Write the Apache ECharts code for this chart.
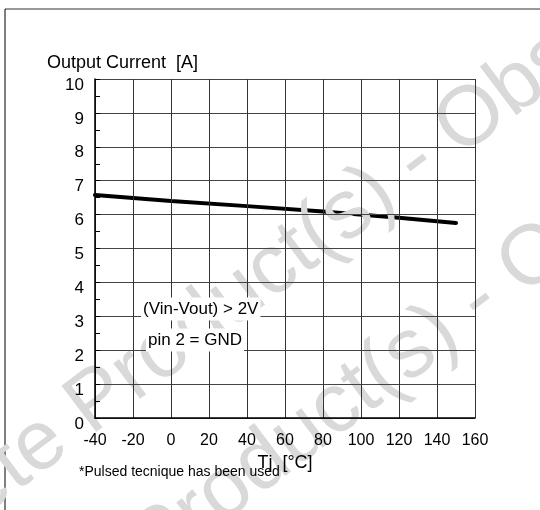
<!DOCTYPE html>
<html>
<head>
<meta charset="utf-8">
<script src="https://cdn.jsdelivr.net/npm/echarts@6/dist/echarts.min.js"></script>
<style>
  html, body { margin: 0; padding: 0; background: #fff; }
  #chart { width: 540px; height: 510px; }
</style>
</head>
<body>
<div id="chart"></div>
<script>
// junction temperature [°C] and output current [A]
var tj = [-40, 0, 40, 80, 120, 150];
var current = [6.58, 6.40, 6.25, 6.09, 5.91, 5.75];
var xTicks = [-40, -20, 0, 20, 40, 60, 80, 100, 120, 140, 160];
var yTicks = [0, 1, 2, 3, 4, 5, 6, 7, 8, 9, 10];

var font = 'Liberation Sans';
var wmAngle = 37 * Math.PI / 180;

// watermark text, sits over the curve but under the grid
function wmText(x, y, text, align) {
	return {
		type: 'text',
		x: x,
		y: y,
		rotation: wmAngle,
		z: 5,
		silent: true,
		style: {
			text: text,
			fill: '#d9d9d9',
			font: '84px "' + font + '"',
			align: align,
			verticalAlign: 'bottom'
		}
	};
}

var myChart = echarts.init(document.getElementById('chart'));
var option = {
	backgroundColor: '#fff',
	animation: false,
	grid: { left: 95, right: 65, top: 79, bottom: 92 },
	xAxis: {
		type: 'value',
		z: 10,
		min: xTicks[0],
		max: xTicks[xTicks.length - 1],
		interval: 20,
		name: 'Tj  [°C]',
		nameLocation: 'middle',
		nameGap: 34,
		nameTextStyle: { color: '#000', fontSize: 18, fontFamily: font },
		axisLine: { lineStyle: { color: '#000', width: 1.5 } },
		axisTick: { show: false },
		axisLabel: { color: '#000', fontSize: 16, fontFamily: font, margin: 15 },
		splitLine: { show: true, lineStyle: { color: '#333', width: 1 } }
	},
	yAxis: {
		type: 'value',
		z: 10,
		min: yTicks[0],
		max: yTicks[yTicks.length - 1],
		interval: 1,
		axisLine: { onZero: false, lineStyle: { color: '#000', width: 1.5 } },
		axisTick: { show: true, inside: true, length: 5, lineStyle: { color: '#000' } },
		minorTick: { show: true, splitNumber: 2, length: 5, lineStyle: { color: '#000' } },
		axisLabel: { color: '#000', fontSize: 17, fontFamily: font, margin: 11, verticalAlign: 'top', lineHeight: 12 },
		splitLine: { show: true, lineStyle: { color: '#444', width: 1 } }
	},
	series: [{
		type: 'line',
		z: 2,
		data: tj.map(function (t, i) { return [t, current[i]]; }),
		symbol: 'none',
		lineStyle: { color: '#000', width: 4, cap: 'round' }
	}],
	graphic: [
		{ type: 'line', shape: { x1: 5, y1: 9, x2: 540, y2: 9 }, style: { stroke: '#777', lineWidth: 1.5 } },
		{ type: 'line', shape: { x1: 5, y1: 9, x2: 5, y2: 510 }, style: { stroke: '#000', lineWidth: 1 } },
		{
			type: 'text', x: 47, y: 63, z: 11,
			style: { text: 'Output Current  [A]', fill: '#000', font: '18px "' + font + '"', verticalAlign: 'middle' }
		},
		{
			type: 'text', x: 141, y: 309, z: 11,
			style: {
				text: '(Vin-Vout) > 2V', fill: '#000', font: '17px "' + font + '"', verticalAlign: 'middle',
				backgroundColor: '#fff', padding: [3, 2]
			}
		},
		{
			type: 'text', x: 146, y: 340, z: 11,
			style: {
				text: 'pin 2 = GND', fill: '#000', font: '17px "' + font + '"', verticalAlign: 'middle',
				backgroundColor: '#fff', padding: [3, 2]
			}
		},
		{
			type: 'text', x: 79, y: 472, z: 11,
			style: { text: '*Pulsed tecnique has been used', fill: '#000', font: '14px "' + font + '"', verticalAlign: 'middle' }
		},
		wmText(102, 451, 'Product(s) - Obsolete Product(s)', 'left'),
		wmText(102, 451, 'Obsolete ', 'right'),
		wmText(165, 590, 'Product(s) - Obsolete Product(s)', 'left'),
		wmText(165, 590, 'Obsolete ', 'right')
	]
};
myChart.setOption(option);
</script>
</body>
</html>
